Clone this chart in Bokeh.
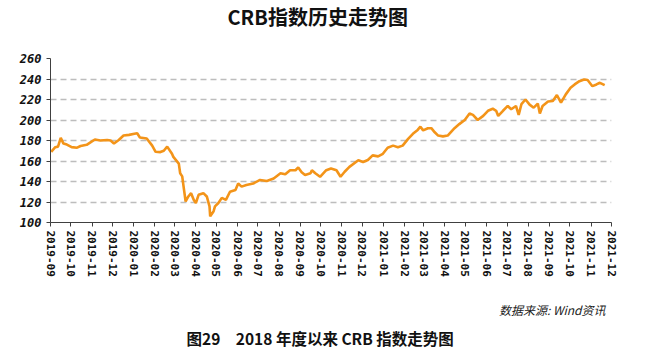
import pandas as pd
from bokeh.plotting import figure
from bokeh.models import Range1d, FixedTicker, DatetimeTickFormatter, Title, ColumnDataSource
from bokeh.embed import file_html
from bokeh.resources import INLINE

title_text = "CRB指数历史走势图"
source_text = "数据来源: Wind资讯"
caption_text = "图29　2018 年度以来 CRB 指数走势图"

dates = [
    "2019-09-02", "2019-09-08", "2019-09-12", "2019-09-16", "2019-09-20", "2019-09-25",
    "2019-10-02", "2019-10-10", "2019-10-15", "2019-10-24", "2019-10-29",
    "2019-11-05", "2019-11-13", "2019-11-23", "2019-11-28",
    "2019-12-03", "2019-12-10", "2019-12-17", "2019-12-25",
    "2020-01-02", "2020-01-06", "2020-01-10", "2020-01-20", "2020-01-28",
    "2020-02-02", "2020-02-09", "2020-02-14", "2020-02-19", "2020-02-26", "2020-02-28",
    "2020-03-07", "2020-03-09", "2020-03-12", "2020-03-14", "2020-03-17", "2020-03-21",
    "2020-03-25", "2020-03-29",
    "2020-04-01", "2020-04-05", "2020-04-12", "2020-04-17", "2020-04-21", "2020-04-22",
    "2020-04-27", "2020-04-29",
    "2020-05-04", "2020-05-09", "2020-05-15", "2020-05-21", "2020-05-29",
    "2020-06-02", "2020-06-07", "2020-06-14", "2020-06-24",
    "2020-07-04", "2020-07-14", "2020-07-24",
    "2020-08-03", "2020-08-10", "2020-08-17", "2020-08-25", "2020-08-29",
    "2020-09-03", "2020-09-08", "2020-09-16", "2020-09-18", "2020-09-23", "2020-09-30",
    "2020-10-09", "2020-10-16", "2020-10-24", "2020-10-30",
    "2020-11-05", "2020-11-12", "2020-11-25",
    "2020-12-02", "2020-12-09", "2020-12-16", "2020-12-24", "2020-12-31",
    "2021-01-07", "2021-01-15", "2021-01-22", "2021-01-29",
    "2021-02-06", "2021-02-13", "2021-02-20", "2021-02-24", "2021-02-28",
    "2021-03-07", "2021-03-12", "2021-03-17", "2021-03-22", "2021-03-29",
    "2021-04-05", "2021-04-12", "2021-04-15", "2021-04-22", "2021-04-30",
    "2021-05-07", "2021-05-12", "2021-05-19", "2021-05-27",
    "2021-06-03", "2021-06-10", "2021-06-15", "2021-06-18", "2021-06-25",
    "2021-07-02", "2021-07-07", "2021-07-14", "2021-07-18", "2021-07-22", "2021-07-28",
    "2021-08-03", "2021-08-09", "2021-08-15", "2021-08-18", "2021-08-22", "2021-08-30",
    "2021-09-06", "2021-09-12", "2021-09-18", "2021-09-25",
    "2021-10-02", "2021-10-08", "2021-10-15", "2021-10-22", "2021-10-27",
    "2021-11-03", "2021-11-09", "2021-11-14", "2021-11-21",
]

crb_values = [
    169.0, 173.5, 174.0, 182.6, 177.0, 176.0,
    173.5, 173.0, 174.6, 175.8, 178.0,
    181.0, 180.0, 180.5, 180.0,
    177.0, 180.5, 184.8, 185.5,
    186.5, 187.0, 183.0, 182.0, 175.0,
    169.0, 168.7, 170.0, 174.0, 167.0, 164.0,
    157.5, 148.0, 145.0, 135.0, 120.5, 125.4,
    128.6, 122.0,
    119.0, 127.0, 128.6, 125.4, 115.7, 106.0,
    111.0, 115.7,
    119.0, 124.0, 122.0, 130.0, 131.6,
    138.0, 135.0, 136.5, 138.0,
    141.5, 140.5, 143.0,
    148.0, 147.0, 151.0, 151.0, 153.7,
    149.0, 146.3, 148.0, 151.0, 148.0, 144.6,
    151.0, 152.7, 151.0, 144.6,
    149.5, 154.3, 160.7,
    159.0, 161.0, 165.5, 164.5, 167.0,
    173.0, 175.0, 173.5, 175.0,
    181.6, 186.5, 190.3, 193.5, 189.9,
    192.0, 192.0, 188.0, 184.8, 184.0,
    184.8, 189.9, 192.0, 196.0, 200.0,
    206.3, 205.0, 200.0, 204.0,
    209.0, 211.0, 209.0, 204.0, 209.0,
    213.7, 210.5, 213.7, 205.0, 215.4, 220.0,
    215.0, 212.0, 216.0, 206.3, 213.7, 218.0,
    218.5, 224.3, 217.0, 225.0,
    231.4, 234.7, 237.9, 239.5, 239.0,
    233.0, 234.7, 236.3, 234.0,
]

tick_labels = [
    "2019-09", "2019-10", "2019-11", "2019-12",
    "2020-01", "2020-02", "2020-03", "2020-04", "2020-05", "2020-06",
    "2020-07", "2020-08", "2020-09", "2020-10", "2020-11", "2020-12",
    "2021-01", "2021-02", "2021-03", "2021-04", "2021-05", "2021-06",
    "2021-07", "2021-08", "2021-09", "2021-10", "2021-11", "2021-12",
]
y_ticks = [100, 120, 140, 160, 180, 200, 220, 240, 260]

LINE_COLOR = "#F39419"
GRID_COLOR = "#BDBDBD"
AXIS_COLOR = "#404040"

src = ColumnDataSource(dict(x=pd.to_datetime(dates), y=crb_values))

tick_dt = pd.to_datetime(tick_labels, format="%Y-%m")
tick_ms = [int(t.value // 10**6) for t in tick_dt]

p = figure(width=646, height=354, x_axis_type="datetime",
           output_backend="svg", toolbar_location=None,
           min_border_left=50, min_border_right=35,
           min_border_top=57, min_border_bottom=131)
p.x_range = Range1d(tick_dt[0], tick_dt[-1])
p.y_range = Range1d(y_ticks[0], y_ticks[-1])
p.outline_line_color = None
p.background_fill_color = "white"
p.border_fill_color = "white"

p.line("x", "y", source=src, line_color=LINE_COLOR, line_width=2.6)

# grid
p.xgrid.grid_line_color = None
p.ygrid.ticker = FixedTicker(ticks=y_ticks[1:])
p.ygrid.grid_line_color = GRID_COLOR
p.ygrid.grid_line_dash = "6 4"
p.ygrid.grid_line_width = 1.5

# y axis
p.yaxis.ticker = FixedTicker(ticks=y_ticks)
p.yaxis.axis_line_color = AXIS_COLOR
p.yaxis.major_tick_line_color = AXIS_COLOR
p.yaxis.minor_tick_line_color = None
p.yaxis.major_tick_out = 4
p.yaxis.major_tick_in = 0
p.yaxis.major_label_standoff = 5
p.yaxis.major_label_text_font = "DejaVu Sans Mono"
p.yaxis.major_label_text_font_style = "bold italic"
p.yaxis.major_label_text_font_size = "12px"
p.yaxis.major_label_text_color = "#111111"

# x axis
p.xaxis.ticker = FixedTicker(ticks=tick_ms)
p.xaxis.formatter = DatetimeTickFormatter(
    months="%Y-%m", days="%Y-%m", years="%Y-%m", hours="%Y-%m",
    hourmin="%Y-%m", minutes="%Y-%m", minsec="%Y-%m", seconds="%Y-%m",
    milliseconds="%Y-%m", microseconds="%Y-%m")
p.xaxis.major_label_overrides = {ms: lab for ms, lab in zip(tick_ms, tick_labels)}
p.xaxis.major_label_orientation = "vertical"
p.xaxis.axis_line_color = AXIS_COLOR
p.xaxis.major_tick_line_color = AXIS_COLOR
p.xaxis.minor_tick_line_color = None
p.xaxis.major_tick_out = 4
p.xaxis.major_tick_in = 0
p.xaxis.major_label_standoff = 4
p.xaxis.major_label_text_font = "DejaVu Sans Mono"
p.xaxis.major_label_text_font_style = "bold"
p.xaxis.major_label_text_font_size = "11px"
p.xaxis.major_label_text_color = "#111111"

# titles: spacer next to the frame, then the chart title
p.add_layout(Title(text=" ", text_font_size="2px", standoff=21), "above")
p.add_layout(Title(text=title_text, align="left", offset=177, vertical_align="top",
                   text_font="Noto Sans CJK SC", text_font_style="bold",
                   text_font_size="20px", text_color="#111111", standoff=2), "above")
# spacer below the axis labels
p.add_layout(Title(text=" ", text_font_size="2px", standoff=14), "below")
p.add_layout(Title(text=source_text, align="right", offset=6,
                   text_font="Noto Sans CJK SC", text_font_style="italic",
                   text_font_size="12px", text_color="#222222", standoff=2), "below")
p.add_layout(Title(text=caption_text, align="left", offset=136,
                   text_font="Noto Sans CJK SC", text_font_style="bold",
                   text_font_size="15.5px", text_color="#111111", standoff=12), "below")

open("out.html", "w").write(file_html(p, INLINE))
